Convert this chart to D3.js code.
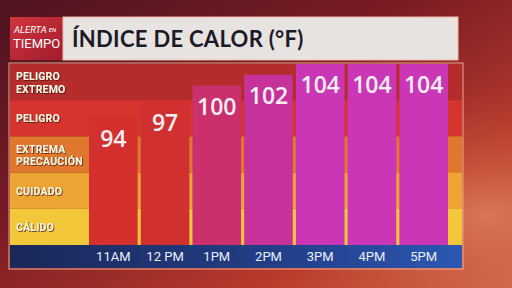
<!DOCTYPE html>
<html>
<head>
<meta charset="utf-8">
<script src="https://cdn.jsdelivr.net/npm/d3@7"></script>
<style>
  body { margin: 0; background: #000; }
  svg { display: block; }
</style>
</head>
<body>
<div id="chart-area"></div>
<script>
var hours = ["11AM", "12 PM", "1PM", "2PM", "3PM", "4PM", "5PM"];
var heatIndex = [94, 97, 100, 102, 104, 104, 104];
var barColors = ["#d3302e", "#d13030", "#c9306c", "#c7329a", "#cb36b6", "#cb36b6", "#cb36b6"];

var bandNames = [["PELIGRO", "EXTREMO"], ["PELIGRO"], ["EXTREMA", "PRECAUCIÓN"], ["CUIDADO"], ["CÁLIDO"]];
var bandColors = ["#b42c2c", "#d6342e", "#e0772e", "#eca532", "#f2c73a"];

var W = 512, H = 288;
var panel = { left: 10, right: 462, top: 64, bottom: 245, axisBottom: 268 };

var svg = d3.select("#chart-area")
    .append("svg")
    .attr("width", W)
    .attr("height", H);

var defs = svg.append("defs");

var bg = defs.append("linearGradient").attr("id", "bg")
    .attr("x1", "0").attr("y1", "0").attr("x2", "1").attr("y2", "1");
bg.append("stop").attr("offset", "0%").attr("stop-color", "#4e1420");
bg.append("stop").attr("offset", "40%").attr("stop-color", "#7a1c24");
bg.append("stop").attr("offset", "75%").attr("stop-color", "#b83a2c");
bg.append("stop").attr("offset", "100%").attr("stop-color", "#d26a4c");

var glow = defs.append("radialGradient").attr("id", "glow")
    .attr("cx", "0.95").attr("cy", "0.75").attr("r", "0.45");
glow.append("stop").attr("offset", "0%").attr("stop-color", "#e08060").attr("stop-opacity", 0.8);
glow.append("stop").attr("offset", "100%").attr("stop-color", "#c04a30").attr("stop-opacity", 0);

var axisGrad = defs.append("linearGradient").attr("id", "axisGrad");
axisGrad.append("stop").attr("offset", "0%").attr("stop-color", "#1a2858");
axisGrad.append("stop").attr("offset", "60%").attr("stop-color", "#233f88");
axisGrad.append("stop").attr("offset", "100%").attr("stop-color", "#2b58b2");

var logoGrad = defs.append("linearGradient").attr("id", "logoGrad")
    .attr("x1", "0").attr("y1", "0").attr("x2", "1").attr("y2", "1");
logoGrad.append("stop").attr("offset", "0%").attr("stop-color", "#d2343e");
logoGrad.append("stop").attr("offset", "100%").attr("stop-color", "#a01c2c");

var shadow = defs.append("filter").attr("id", "shadow")
    .attr("x", "-10%").attr("y", "-30%").attr("width", "130%").attr("height", "160%");
shadow.append("feDropShadow")
    .attr("dx", 0.8).attr("dy", 0.8).attr("stdDeviation", 0.5)
    .attr("flood-color", "#3a1408").attr("flood-opacity", 0.9);

svg.append("rect").attr("width", W).attr("height", H).attr("fill", "url(#bg)");
svg.append("rect").attr("width", W).attr("height", H).attr("fill", "url(#glow)");

// title
svg.append("rect")
    .attr("x", 10).attr("y", 17).attr("width", 53).attr("height", 43)
    .attr("fill", "url(#logoGrad)");
svg.append("text")
    .attr("x", 14).attr("y", 33)
    .attr("font-family", "Liberation Sans Narrow, Roboto, sans-serif")
    .attr("font-size", 9.5).attr("font-style", "italic")
    .attr("fill", "#fff")
    .text("ALERTA")
    .append("tspan").attr("font-size", 6).attr("dx", 2).attr("dy", -1).text("EN");
svg.append("text")
    .attr("x", 13).attr("y", 48)
    .attr("font-family", "Liberation Sans Narrow, Roboto, sans-serif")
    .attr("font-size", 13)
    .attr("fill", "#fff")
    .text("TIEMPO");

svg.append("rect")
    .attr("x", 63).attr("y", 17).attr("width", 395).attr("height", 43)
    .attr("fill", "#e7e3e1")
    .attr("stroke", "#f4b8a8").attr("stroke-width", 1);
svg.append("text")
    .attr("x", 72).attr("y", 47)
    .attr("font-family", "Lato, sans-serif")
    .attr("font-size", 22).attr("font-weight", "bold")
    .attr("fill", "#1b1b28")
    .attr("letter-spacing", 0.3)
    .text("ÍNDICE DE CALOR (°F)");

// bands
var yBand = d3.scaleBand()
    .domain(d3.range(bandNames.length))
    .range([panel.top, panel.bottom]);

svg.append("rect")
    .attr("x", panel.left - 1).attr("y", panel.top - 1)
    .attr("width", panel.right - panel.left + 2).attr("height", panel.axisBottom - panel.top + 2)
    .attr("fill", "none").attr("stroke", "#f0a890").attr("stroke-width", 1);

svg.selectAll(".band")
    .data(bandColors)
    .enter()
    .append("rect")
    .attr("class", "band")
    .attr("x", panel.left)
    .attr("y", (d, i) => yBand(i))
    .attr("width", panel.right - panel.left)
    .attr("height", yBand.bandwidth())
    .attr("fill", (d) => d);

var bandLabels = svg.selectAll(".band-label")
    .data(bandNames)
    .enter()
    .append("text")
    .attr("class", "band-label")
    .attr("x", 16)
    .attr("y", (d, i) => yBand(i) + yBand.bandwidth() / 2 - (d.length - 1) * 6 + 4)
    .attr("font-family", "Liberation Sans Narrow, Roboto, sans-serif")
    .attr("font-size", 10.5).attr("font-weight", "bold")
    .attr("fill", "#fdf4e0")
    .attr("letter-spacing", 0.2)
    .attr("filter", "url(#shadow)");

bandLabels.selectAll("tspan")
    .data((d) => d)
    .enter()
    .append("tspan")
    .attr("x", 16)
    .attr("dy", (d, i) => i === 0 ? 0 : 12.5)
    .text((d) => d);

// bars
var x = d3.scaleBand()
    .domain(hours)
    .range([89, 448])
    .paddingInner(0.06)
    .paddingOuter(0);

var y = d3.scaleLinear()
    .domain([70.5, 104])
    .range([panel.bottom, panel.top]);

var g = svg.append("g");

g.selectAll(".bar")
    .data(heatIndex)
    .enter()
    .append("rect")
    .attr("class", "bar")
    .attr("x", (d, i) => x(hours[i]))
    .attr("y", (d) => y(d))
    .attr("width", x.bandwidth())
    .attr("height", (d) => panel.bottom - y(d))
    .attr("fill", (d, i) => barColors[i]);

g.selectAll(".bar-label")
    .data(heatIndex)
    .enter()
    .append("text")
    .attr("class", "bar-label")
    .attr("x", (d, i) => x(hours[i]) + x.bandwidth() / 2)
    .attr("y", (d) => y(d) + 29)
    .attr("text-anchor", "middle")
    .attr("font-family", "Open Sans, sans-serif")
    .attr("font-size", 23).attr("font-weight", 600)
    .attr("fill", "#f8eef4")
    .text((d) => d);

// axis strip
svg.append("rect")
    .attr("x", panel.left).attr("y", panel.bottom)
    .attr("width", panel.right - panel.left).attr("height", panel.axisBottom - panel.bottom)
    .attr("fill", "url(#axisGrad)");

var xAxis = svg.append("g")
    .attr("class", "x-axis")
    .attr("transform", "translate(0," + panel.bottom + ")")
    .call(d3.axisBottom(x).tickSize(0).tickPadding(0));

xAxis.select(".domain").remove();
xAxis.selectAll("text")
    .attr("y", 16)
    .attr("dy", 0)
    .attr("font-family", "Liberation Sans Narrow, Roboto, sans-serif")
    .attr("font-size", 13)
    .attr("fill", "#e8eefc");
</script>
</body>
</html>
